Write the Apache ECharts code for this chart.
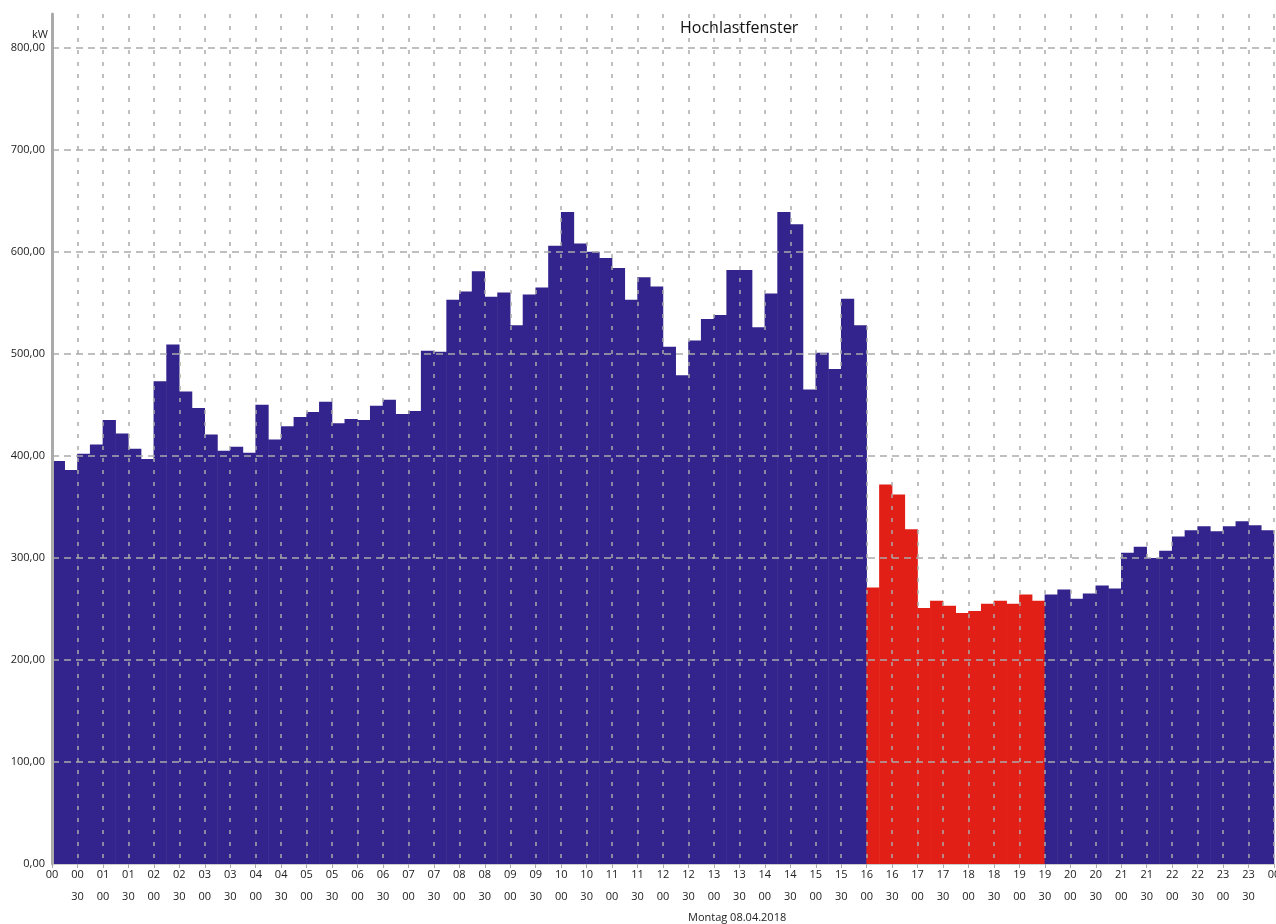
<!DOCTYPE html>
<html>
<head>
<meta charset="utf-8">
<script src="https://cdn.jsdelivr.net/npm/echarts@6/dist/echarts.min.js"></script>
<style>
  html, body { margin: 0; padding: 0; background: #fff; }
  #chart { width: 1276px; height: 924px; }
</style>
</head>
<body>
<div id="chart"></div>
<script>
// Lastgang in kW, 15-Minuten-Werte, 00:00 bis 24:00
var loadKW = [
  395, 386, 402, 411, 435, 422, 407, 397,
  473, 509, 463, 447, 421, 405, 409, 403,
  450, 416, 429, 438, 443, 453, 432, 436,
  435, 449, 455, 441, 444, 503, 502, 553,
  561, 581, 556, 560, 528, 558, 565, 606,
  639, 608, 600, 594, 584, 553, 575, 566,
  507, 479, 513, 534, 538, 582, 582, 526,
  559, 639, 627, 465, 501, 485, 554, 528,
  271, 372, 362, 328, 251, 258, 253, 246,
  248, 255, 258, 255, 264, 258, 264, 269,
  260, 265, 273, 270, 305, 311, 300, 307,
  321, 327, 331, 326, 331, 336, 332, 327
]
// Hochlastfenster in Viertelstunden (16:00 - 19:30)
var peakWindow = [64, 78]
var chartTitle = 'Hochlastfenster'
var dayLabel = 'Montag 08.04.2018'
var unitLabel = 'kW'

var pad2 = function(n) { return (n < 10 ? '0' : '') + n }

var chart = echarts.init(document.getElementById('chart'))
chart.setOption({
  animation: false,
  textStyle: { fontFamily: 'Open Sans, Noto Sans, sans-serif' },
  title: [
    { text: chartTitle, left: 675, top: 15, textStyle: { fontSize: 16, fontWeight: 'normal', color: '#111' } },
    { text: unitLabel, left: 27, top: 24, textStyle: { fontSize: 11, fontWeight: 'normal', color: '#222' } },
    { text: dayLabel, left: 683, top: 907, textStyle: { fontSize: 11, fontWeight: 'normal', color: '#222' } }
  ],
  grid: { left: 52, right: 2, top: 14, bottom: 60, outerBoundsMode: 'none', containLabel: false },
  xAxis: {
    type: 'value',
    min: 0,
    max: 96,
    interval: 2,
    z: 3,
    axisLine: { show: true, lineStyle: { color: '#ccc', width: 1 } },
    axisTick: { show: true, length: 4, lineStyle: { color: '#aaa' } },
    splitLine: {
      show: true,
      showMinLine: false,
      lineStyle: { color: '#aaa', width: 1.5, type: [4, 8] }
    },
    axisLabel: {
      margin: 0,
      showMinLabel: true,
      showMaxLabel: true,
      hideOverlap: false,
      fontSize: 11,
      lineHeight: 22,
      color: '#222',
      formatter: function(v) {
        var h = pad2(Math.floor(v / 4) % 24)
        if (v === 0 || v === 96) return h
        return h + '\n' + (v % 4 === 0 ? '00' : '30')
      }
    }
  },
  yAxis: {
    type: 'value',
    min: 0,
    max: 833,
    interval: 100,
    z: 3,
    axisLine: { show: true, lineStyle: { color: '#aaa', width: 3 } },
    axisTick: { show: false },
    splitLine: {
      show: true,
      showMinLine: false,
      showMaxLine: false,
      lineStyle: { color: '#aaa', width: 1.5, type: [7, 5] }
    },
    axisLabel: {
      margin: 7,
      showMaxLabel: false,
      fontSize: 11,
      color: '#222',
      formatter: function(v) { return v.toFixed(2).replace('.', ',') }
    }
  },
  series: [{
    type: 'bar',
    barWidth: '104%',
    data: loadKW.map(function(v, i) { return [i + 0.5, v] }),
    itemStyle: {
      color: function(p) {
        var q = p.dataIndex
        return (q >= peakWindow[0] && q < peakWindow[1]) ? '#e11f17' : '#33238c'
      }
    }
  }]
})
</script>
</body>
</html>
